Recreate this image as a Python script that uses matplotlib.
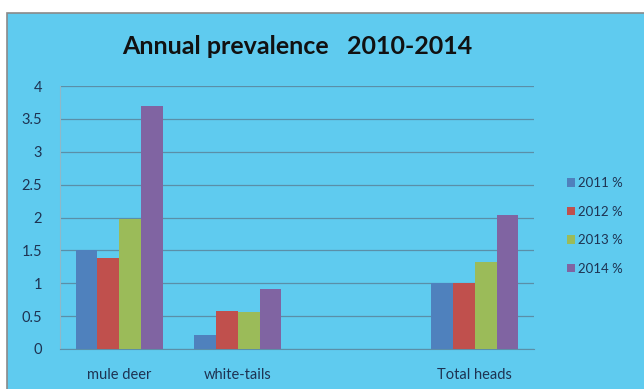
import matplotlib
matplotlib.use("Agg")
import matplotlib.pyplot as plt
import numpy as np
from matplotlib.patches import Rectangle

categories = ["mule deer", "white-tails", "", "Total heads"]
series_names = ["2011 %", "2012 %", "2013 %", "2014 %"]
v2011 = [1.5, 0.22, None, 1.0]
v2012 = [1.38, 0.58, None, 1.0]
v2013 = [1.97, 0.56, None, 1.32]
v2014 = [3.70, 0.92, None, 2.04]
series = [v2011, v2012, v2013, v2014]
colors = ["#4F81BD", "#C0504D", "#9BBB59", "#8064A2"]
yticks = [0, 0.5, 1, 1.5, 2, 2.5, 3, 3.5, 4]
ytick_labels = ["0", "0.5", "1", "1.5", "2", "2.5", "3", "3.5", "4"]

plt.rcParams['font.family'] = ['Lato', 'DejaVu Sans']
bg = "#5FCBEF"
txt = "#1E3352"
grid = "#5A8FA8"

fig = plt.figure(figsize=(6.44, 3.89), dpi=100)
fig.patch.set_facecolor("white")
bgrect = Rectangle((7/644, -0.05), 1.1, 1.05 - 13/389, transform=fig.transFigure,
                   facecolor=bg, edgecolor="#8A8A8A", linewidth=1.2, zorder=-10)
fig.patches.append(bgrect)

ax = fig.add_axes([60/644, 1 - 349/389, (534 - 60)/644, (349 - 86)/389])
ax.set_zorder(5)
ax.patch.set_alpha(0)

x = np.arange(len(categories))
bw = 0.184
for i, (vals, c, name) in enumerate(zip(series, colors, series_names)):
    xs = [xi + (i - 1.5) * bw for xi, v in zip(x, vals) if v is not None]
    ys = [v for v in vals if v is not None]
    ax.bar(xs, ys, width=bw, color=c, label=name, zorder=3)

ax.set_xlim(-0.5, len(categories) - 0.5)
ax.set_ylim(0, 4)
ax.set_yticks(yticks)
ax.set_yticklabels(ytick_labels, fontsize=10.5, color=txt)
ax.set_xticks(x)
ax.set_xticklabels(categories, fontsize=10.5, color=txt)
ax.yaxis.grid(True, color=grid, linewidth=0.9, zorder=1)
ax.set_axisbelow(True)
for s in ["top", "right"]:
    ax.spines[s].set_visible(False)
ax.spines["left"].set_color("#8FB8C8")
ax.spines["bottom"].set_color(grid)
ax.tick_params(axis="x", length=0, pad=14)
ax.tick_params(axis="y", length=0, pad=13)

fig.text(297/644, 1 - 47/389, "Annual prevalence   2010-2014", ha="center", va="center",
         fontsize=18, fontweight="bold", color="#111111", zorder=6)

leg = ax.legend(loc="upper left", bbox_to_anchor=(562/644, 1 - 172/389), bbox_transform=fig.transFigure,
                frameon=False, fontsize=9.5, handlelength=0.6, handleheight=0.6,
                handletextpad=0.2, labelspacing=1.25, borderaxespad=0)
for t in leg.get_texts():
    t.set_color(txt)

fig.savefig("out.png", dpi=100, facecolor=fig.get_facecolor())
